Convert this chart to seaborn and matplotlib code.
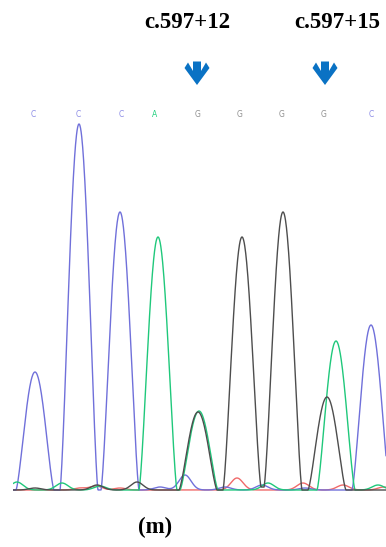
import numpy as np
import pandas as pd
import matplotlib
matplotlib.use("Agg")
import matplotlib.pyplot as plt
import seaborn as sns
from matplotlib.patches import Polygon

# base calls shown above the trace
call_letters = ["C", "C", "C", "A", "G", "G", "G", "G", "C"]
call_pos = [33, 78, 121, 155, 198, 240, 282, 324, 371]

# main peaks per dye channel: position (scan) and height
c_pos = [35, 79, 120, 371]
c_height = [118, 366, 278, 165]
a_pos = [158, 199, 336]
a_height = [253, 79, 149]
g_pos = [198, 242, 283, 327]
g_height = [78, 253, 278, 93]

# small baseline bumps
c_noise_pos = [160, 185, 225, 262, 305]
c_noise_h = [3, 15, 3, 5, 2]
a_noise_pos = [17, 62, 100, 268, 378]
a_noise_h = [8, 7, 4, 7, 5]
g_noise_pos = [35, 97, 137, 262]
g_noise_h = [2, 5, 8, 3]
t_noise_pos = [80, 96, 120, 237, 303, 343, 384]
t_noise_h = [2, 4, 2, 12, 7, 5, 3]

mutations = ["c.597+12", "c.597+15"]
mutation_pos = [197, 325]
panel_label = "(m)"

colors = {"C": "#7070da", "A": "#1fc87b", "G": "#4d4d4d", "T": "#f06a6a"}
letter_colors = {"C": "#8d8de6", "A": "#22d17f", "G": "#8f8f8f"}

W, H = 386, 547
scan = np.linspace(13, 386, 1200)


def peak(x, pos, h, w=19.0):
    d = np.abs(x - pos)
    shape = np.where(d < w, np.cos(np.pi * np.minimum(d, w) / (2 * w)) ** 1.4, 0.0)
    return h * shape


def bump(x, pos, h, s=6.0):
    return h * np.exp(-0.5 * ((x - pos) / s) ** 2)


def channel(pos, height, npos, nh):
    y = np.zeros_like(scan)
    for p, h in zip(pos, height):
        y += peak(scan, p, h)
    for p, h in zip(npos, nh):
        y += bump(scan, p, h)
    return y


frames = []
for base, pos, height, npos, nh in [
    ("T", [], [], t_noise_pos, t_noise_h),
    ("C", c_pos, c_height, c_noise_pos, c_noise_h),
    ("A", a_pos, a_height, a_noise_pos, a_noise_h),
    ("G", g_pos, g_height, g_noise_pos, g_noise_h),
]:
    frames.append(pd.DataFrame({"scan": scan, "signal": channel(pos, height, npos, nh), "base": base}))
trace = pd.concat(frames, ignore_index=True)

sns.set_style("white")
plt.rcParams["font.family"] = ["DejaVu Sans"]

fig = plt.figure(figsize=(W / 100, H / 100), dpi=100)
ax = fig.add_axes([13 / W, (H - 492) / H, (W - 13) / W, 382 / H])
sns.lineplot(data=trace, x="scan", y="signal", hue="base", palette=colors,
             estimator=None, sort=False, legend=False, linewidth=1.0, ax=ax)
ax.set_xlim(13, 386)
ax.set_ylim(-2, 380)
ax.axis("off")

for letter, x in zip(call_letters, call_pos):
    ax.text(x, 376, letter, color=letter_colors[letter], fontsize=5.5,
            ha="center", va="center", clip_on=False)


def fx(px):
    return px / W


def fy(py):
    return 1 - py / H


arrow_shape = [(0, 0), (12.5, -17), (9, -22.5), (4, -14), (4, -23.5),
               (-4, -23.5), (-4, -14), (-9, -22.5), (-12.5, -17)]
for label, x in zip(mutations, mutation_pos):
    tx = x - 10 if label == mutations[0] else x + 12
    fig.text(fx(tx), fy(23), label, fontsize=16.5, fontweight="bold", color="black",
             family="Liberation Serif", ha="center", va="center")
    pts = [(fx(x + dx), fy(85 + dy)) for dx, dy in arrow_shape]
    fig.add_artist(Polygon(pts, closed=True, transform=fig.transFigure,
                           facecolor="#0a72c4", edgecolor="none"))

fig.text(fx(155), fy(527), panel_label, fontsize=16.5, fontweight="bold", color="black",
         family="Liberation Serif", ha="center", va="center")

fig.savefig("out.png", dpi=100)
